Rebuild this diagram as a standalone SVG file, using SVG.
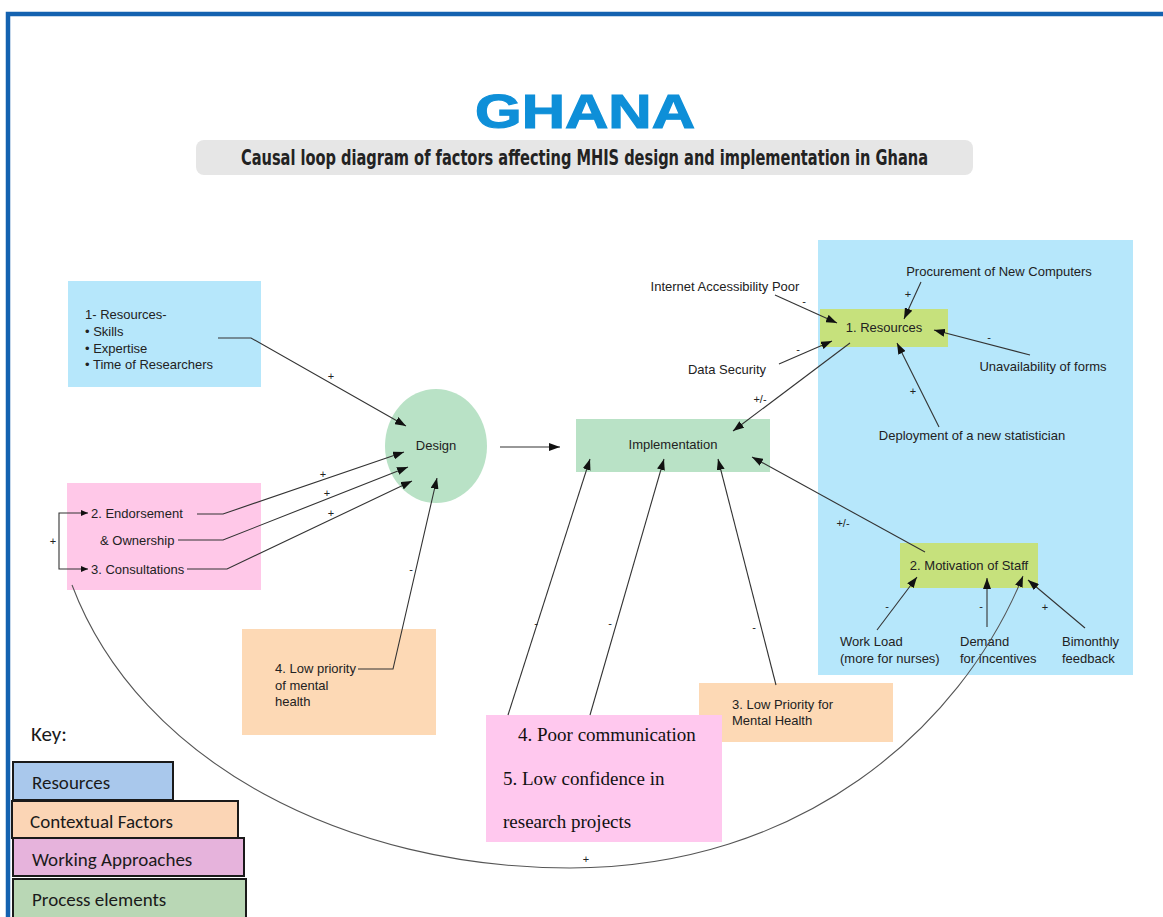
<svg xmlns="http://www.w3.org/2000/svg" width="1163" height="917" viewBox="0 0 1163 917">
<style>
.t{font-family:"Liberation Sans",Arial,sans-serif;font-size:13px;fill:#222}
.s{font-family:"Liberation Sans",Arial,sans-serif;font-size:11px;fill:#222;text-anchor:middle}
.serif{font-family:"Liberation Serif","Times New Roman",serif;font-size:19px;fill:#111}
.key{font-family:Carlito,Lato,"Open Sans",sans-serif;font-size:19px;fill:#1a1a1a}
.ln{fill:none;stroke:#333;stroke-width:1.1}
.arc{fill:none;stroke:#555;stroke-width:1.1}
.kb{stroke:#1a1a1a;stroke-width:2}
</style>
<defs>
<marker id="arr" markerUnits="userSpaceOnUse" markerWidth="11" markerHeight="8" refX="11" refY="4" orient="auto">
<path d="M0,0 L11,4 L0,8 z" fill="#111"/>
</marker>
<marker id="arrs" markerUnits="userSpaceOnUse" markerWidth="7" markerHeight="6" refX="7" refY="3" orient="auto">
<path d="M0,0 L7,3 L0,6 z" fill="#111"/>
</marker>
</defs>
<rect width="1163" height="917" fill="#fff"/>
<!-- frame -->
<path d="M8,917 V14 H1163" fill="none" stroke="#1462b0" stroke-width="4.5"/>
<!-- title -->
<g id="title">
<text x="585" y="128" text-anchor="middle" textLength="220" lengthAdjust="spacingAndGlyphs" style="font-family:'Liberation Sans',Arial,sans-serif;font-weight:bold;font-size:49px;fill:#0e8fd8;stroke:#0e8fd8;stroke-width:1.2">GHANA</text>
<rect x="196" y="140" width="777" height="35" rx="8" fill="#e6e6e6"/>
<text x="584.5" y="165" text-anchor="middle" textLength="687" lengthAdjust="spacingAndGlyphs" style="font-family:'Liberation Sans Narrow','DejaVu Sans Condensed','Liberation Sans',sans-serif;font-weight:bold;font-size:21px;fill:#222">Causal loop diagram of factors affecting MHIS design and implementation in Ghana</text>
</g>
<!-- right panel background -->
<rect id="resources-panel" x="818" y="240" width="315" height="435" fill="#b6e7fb"/>
<!-- nodes -->
<g id="n-resources-left">
<rect x="68" y="281" width="193" height="106" fill="#b6e7fb"/>
<text class="t" x="85" y="319">1- Resources-</text>
<text class="t" x="85" y="336">• Skills</text>
<text class="t" x="85" y="353">• Expertise</text>
<text class="t" x="85" y="369">• Time of Researchers</text>
</g>
<g id="n-working-left">
<rect x="67" y="483" width="194" height="107" fill="#ffc8e8"/>
<text class="t" x="91" y="518">2. Endorsement</text>
<text class="t" x="100" y="545">&amp; Ownership</text>
<text class="t" x="91" y="574">3. Consultations</text>
</g>
<g id="n-design">
<ellipse cx="436" cy="446" rx="51" ry="57" fill="#b9e2c6"/>
<text class="t" x="436" y="450" text-anchor="middle">Design</text>
</g>
<g id="n-lowpriority4">
<rect x="242" y="629" width="194" height="106" fill="#fdd9b5"/>
<text class="t" x="275" y="673">4. Low priority</text>
<text class="t" x="275" y="690">of mental</text>
<text class="t" x="275" y="706">health</text>
</g>
<g id="n-implementation">
<rect x="576" y="419" width="194" height="53" fill="#b9e2c6"/>
<text class="t" x="673" y="449" text-anchor="middle">Implementation</text>
</g>
<g id="n-lowpriority3">
<rect x="699" y="683" width="194" height="59" fill="#fdd9b5"/>
<text class="t" x="732" y="709">3. Low Priority for</text>
<text class="t" x="732" y="725">Mental Health</text>
</g>
<g id="n-poorcomm">
<rect x="486" y="715" width="236" height="127" fill="#ffc8ee"/>
<text class="serif" x="518" y="741">4. Poor communication</text>
<text class="serif" x="503" y="785">5. Low confidence in</text>
<text class="serif" x="503" y="828">research projects</text>
</g>
<g id="n-resources1">
<rect x="820" y="309" width="128" height="38" fill="#c6e17c"/>
<text class="t" x="884" y="332" text-anchor="middle">1. Resources</text>
</g>
<g id="n-motivation">
<rect x="900" y="543" width="138" height="45" fill="#c6e17c"/>
<text class="t" x="969" y="570" text-anchor="middle">2. Motivation of Staff</text>
</g>
<g id="n-procurement"><text class="t" x="999" y="276" text-anchor="middle">Procurement of New Computers</text></g>
<g id="n-internet"><text class="t" x="725" y="291" text-anchor="middle">Internet Accessibility Poor</text></g>
<g id="n-datasecurity"><text class="t" x="727" y="374" text-anchor="middle">Data Security</text></g>
<g id="n-forms"><text class="t" x="1043" y="371" text-anchor="middle">Unavailability of forms</text></g>
<g id="n-statistician"><text class="t" x="972" y="440" text-anchor="middle">Deployment of a new statistician</text></g>
<g id="n-workload"><text class="t" x="840" y="646">Work Load</text><text class="t" x="840" y="663">(more for nurses)</text></g>
<g id="n-incentives"><text class="t" x="960" y="646">Demand</text><text class="t" x="960" y="663">for incentives</text></g>
<g id="n-feedback"><text class="t" x="1062" y="646">Bimonthly</text><text class="t" x="1062" y="663">feedback</text></g>
<!-- connectors -->
<g id="connectors">
<path class="ln" d="M218,338 H251 L406,426" marker-end="url(#arr)"/>
<path class="ln" d="M197,514 H223 L404,452" marker-end="url(#arr)"/>
<path class="ln" d="M178,540 H223 L408,467" marker-end="url(#arr)"/>
<path class="ln" d="M187,569 H227 L412,481" marker-end="url(#arr)"/>
<path class="ln" d="M59,541 V513 H88" marker-end="url(#arrs)"/>
<path class="ln" d="M59,541 V569 H88" marker-end="url(#arrs)"/>
<path class="ln" d="M358,669 H393 L437,478" marker-end="url(#arr)"/>
<path class="ln" d="M500,447 H560" marker-end="url(#arr)"/>
<path class="ln" d="M508,715 L590,459" marker-end="url(#arr)"/>
<path class="ln" d="M590,715 L664,459" marker-end="url(#arr)"/>
<path class="ln" d="M776,685 L718,459" marker-end="url(#arr)"/>
<path class="ln" d="M925,552 L752,457" marker-end="url(#arr)"/>
<path class="ln" d="M850,343 L733,431" marker-end="url(#arr)"/>
<path class="ln" d="M775,295 L837,323" marker-end="url(#arr)"/>
<path class="ln" d="M921,282 L904,319" marker-end="url(#arr)"/>
<path class="ln" d="M779,364 L832,341" marker-end="url(#arr)"/>
<path class="ln" d="M1030,355 L934,330" marker-end="url(#arr)"/>
<path class="ln" d="M939,427 L897,343" marker-end="url(#arr)"/>
<path class="ln" d="M877,630 L917,577" marker-end="url(#arr)"/>
<path class="ln" d="M987,627 V578" marker-end="url(#arr)"/>
<path class="ln" d="M1085,628 L1028,580" marker-end="url(#arr)"/>
<path class="arc" d="M72,585 C140,765 350,868 570,868 C800,868 960,730 1023,576" marker-end="url(#arr)"/>
<g id="signs">
<text class="s" x="331" y="380">+</text>
<text class="s" x="323" y="478">+</text>
<text class="s" x="327" y="497">+</text>
<text class="s" x="331" y="517">+</text>
<text class="s" x="53" y="545">+</text>
<text class="s" x="411" y="573">-</text>
<text class="s" x="536" y="627">-</text>
<text class="s" x="610" y="627">-</text>
<text class="s" x="754" y="631">-</text>
<text class="s" x="760" y="403">+/-</text>
<text class="s" x="843" y="527">+/-</text>
<text class="s" x="804" y="305">-</text>
<text class="s" x="908" y="298">+</text>
<text class="s" x="798" y="353">-</text>
<text class="s" x="989" y="341">-</text>
<text class="s" x="913" y="395">+</text>
<text class="s" x="887" y="610">-</text>
<text class="s" x="981" y="610">-</text>
<text class="s" x="1045" y="611">+</text>
<text class="s" x="586" y="863">+</text>
</g>
</g>
<!-- key -->
<g id="key">
<text class="key" x="31" y="741" style="font-size:21px">Key:</text>
<rect class="kb" x="13" y="762" width="160" height="38" fill="#a9c8ec"/>
<rect class="kb" x="12" y="801" width="226" height="37" fill="#fbd5b5"/>
<rect class="kb" x="13" y="838" width="231" height="38" fill="#e6b3dc"/>
<rect class="kb" x="13" y="879" width="233" height="40" fill="#b9d7b5"/>
<text class="key" x="32" y="789">Resources</text>
<text class="key" x="30" y="828">Contextual Factors</text>
<text class="key" x="32" y="866">Working Approaches</text>
<text class="key" x="32" y="906">Process elements</text>
</g>
</svg>
